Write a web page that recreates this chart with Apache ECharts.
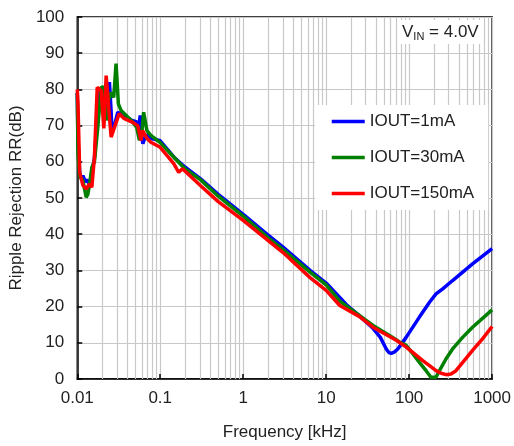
<!DOCTYPE html>
<html>
<head>
<meta charset="utf-8">
<script src="https://cdn.jsdelivr.net/npm/echarts@6/dist/echarts.min.js"></script>
<style>
html,body{margin:0;padding:0;background:#fff;}
#c{width:514px;height:446px;}
</style>
</head>
<body>
<div id="c"></div>
<script>
const seriesNames = ['IOUT=1mA', 'IOUT=30mA', 'IOUT=150mA'];
const xTickLabels = ['0.01', '0.1', '1', '10', '100', '1000'];
const yTicks = [0, 10, 20, 30, 40, 50, 60, 70, 80, 90, 100];

const freq1 = [0.01, 0.0102, 0.0107, 0.0112, 0.0117, 0.0125, 0.0134, 0.0140, 0.0150, 0.0161, 0.0174, 0.0185, 0.0200, 0.0213, 0.0230, 0.0244, 0.0256, 0.0261, 0.0280, 0.0308, 0.037, 0.045, 0.052, 0.0546, 0.0574, 0.0600, 0.0618, 0.065, 0.069, 0.077, 0.1, 0.15, 0.2, 0.307, 0.5, 1, 1.93, 3, 6.4, 10, 17.6, 25, 36.7, 45, 53, 57, 61, 66, 73, 92, 133, 176, 211, 254, 334, 581, 1000];
const rr1 = [79, 66, 57, 55.5, 56.2, 54.5, 55, 53.5, 57, 61, 72, 79, 80, 73, 78, 82, 74, 68.6, 70, 73.7, 72.5, 71.5, 71, 69, 72.8, 67, 65, 66.5, 67.5, 66.5, 65.8, 61, 58.5, 55.3, 51, 45.5, 40, 36.5, 30, 26.5, 20.5, 17.5, 14, 11.5, 8.3, 7.3, 7.1, 7.4, 8.3, 11.5, 17.1, 21.2, 23.5, 24.9, 27.2, 31.8, 36];

const freq2 = [0.01, 0.0102, 0.0107, 0.0117, 0.0128, 0.0134, 0.0140, 0.0150, 0.0161, 0.0177, 0.0194, 0.02125, 0.0223, 0.02373, 0.0256, 0.0275, 0.02935, 0.0313, 0.0337, 0.04, 0.045, 0.052, 0.056, 0.060, 0.0631, 0.0691, 0.077, 0.1, 0.15, 0.2, 0.307, 0.5, 1, 2, 3, 6.4, 10, 14.6, 22, 36.7, 60, 76.7, 92, 110.7, 133, 160, 183, 192, 211, 232, 279, 334, 441, 581, 1000];
const rr2 = [79, 62, 56, 54.8, 50.2, 51, 53.5, 58.5, 60, 69.6, 80.6, 80.6, 71.4, 76.9, 79.2, 77.8, 87.1, 76, 74.2, 72.5, 71.4, 69.5, 66, 68, 73.7, 68.6, 67.3, 65.3, 61, 58, 55, 50.5, 45, 39, 35.8, 29.5, 26, 21.5, 18.5, 14.8, 11.8, 10.2, 9.3, 7.0, 4.6, 2.3, 0.5, 0.1, 0.5, 2.3, 5.6, 8.3, 11.5, 14.3, 19.1];

const freq3 = [0.01, 0.0102, 0.0107, 0.0117, 0.0128, 0.0140, 0.0150, 0.0161, 0.0174, 0.0194, 0.0209, 0.0223, 0.0256, 0.0320, 0.0369, 0.0466, 0.0535, 0.0558, 0.0585, 0.0613, 0.0690, 0.0771, 0.1, 0.1455, 0.167, 0.185, 0.307, 0.5, 1, 3, 6.4, 10, 14.6, 25, 36.7, 70, 92.3, 146, 176, 211, 243, 279, 320, 367, 461, 581, 766, 1000];
const rr3 = [80, 76, 57, 53.5, 52.5, 53.9, 53, 61.3, 80.6, 79.7, 69.2, 83.8, 66.8, 73.3, 71.9, 70.9, 70, 68.2, 65.9, 68.6, 66.5, 65.4, 64, 59.5, 57.1, 58.1, 53.4, 49, 43.8, 35, 28, 24.5, 20.3, 17.3, 14.3, 10.7, 8.8, 5.1, 3.7, 2.3, 1.6, 1.2, 1.4, 2.3, 5.1, 7.9, 11.1, 14.5];

const minorGrid = [];
[0.01, 0.1, 1, 10, 100].forEach(function (d) {
  for (let k = 2; k <= 9; k++) minorGrid.push(+(d * k).toPrecision(3));
});

function pairs(xs, ys) { return xs.map(function (x, i) { return [x, ys[i]]; }); }

const font = 'Liberation Sans, Arial, sans-serif';
const chart = echarts.init(document.getElementById('c'), null, {renderer: 'canvas'});
const colors = ['#0000ff', '#008000', '#ff0000'];
const datas = [pairs(freq1, rr1), pairs(freq2, rr2), pairs(freq3, rr3)];

const series = [{
  type: 'line', data: [], silent: true, z: 1,
  markLine: {
    silent: true, symbol: 'none', label: {show: false}, animation: false, z: 1,
    lineStyle: {color: '#c8c8c8', width: 1.2, type: 'solid'},
    data: minorGrid.map(function (v) { return {xAxis: v}; })
  }
}];
seriesNames.forEach(function (n, i) {
  series.push({
    name: n, type: 'line', data: datas[i], showSymbol: false, symbol: 'none',
    lineStyle: {color: colors[i], width: 3.5}, itemStyle: {color: colors[i]},
    z: 3 + i, animation: false
  });
});

chart.setOption({
  animation: false,
  textStyle: {fontFamily: font},
  grid: {left: 76, right: 21, top: 17, bottom: 67, show: true, borderColor: '#000', borderWidth: 1.5, backgroundColor: 'transparent'},
  xAxis: {
    type: 'log', logBase: 10, min: 0.01, max: 1000,
    name: 'Frequency [kHz]', nameLocation: 'middle', nameGap: 45,
    nameTextStyle: {fontSize: 17, color: '#222', fontFamily: font},
    axisLine: {show: true, lineStyle: {color: '#000', width: 1.5}},
    axisTick: {show: true, inside: true, length: 5, lineStyle: {color: '#000', width: 1.5}},
    axisLabel: {fontSize: 17, color: '#222', margin: 11, fontFamily: font,
      formatter: function (v) {
        const idx = Math.round(Math.log10(v)) + 2;
        return xTickLabels[idx] !== undefined ? xTickLabels[idx] : '';
      }},
    splitLine: {show: true, lineStyle: {color: '#c8c8c8', width: 1.2}},
    minorTick: {show: false},
    minorSplitLine: {show: false}
  },
  yAxis: {
    type: 'value', min: 0, max: 100, interval: 10,
    name: 'Ripple Rejection RR(dB)', nameLocation: 'middle', nameGap: 50,
    nameTextStyle: {fontSize: 17, color: '#222', fontFamily: font},
    axisLine: {show: true, lineStyle: {color: '#000', width: 1.5}},
    axisTick: {show: true, inside: true, length: 5, lineStyle: {color: '#000', width: 1.5}},
    axisLabel: {fontSize: 17, color: '#222', margin: 13, fontFamily: font,
      formatter: function (v) { return yTicks.indexOf(v) >= 0 ? String(v) : ''; }},
    splitLine: {show: true, lineStyle: {color: '#c8c8c8', width: 1.2}}
  },
  legend: {
    data: seriesNames,
    orient: 'vertical', left: 315, top: 105, z: 20,
    padding: [8, 14, 8, 15], itemGap: 19, itemWidth: 33, itemHeight: 17,
    backgroundColor: '#fff', borderWidth: 0,
    lineStyle: {width: 3.5},
    itemStyle: {opacity: 0},
    textStyle: {fontSize: 17, color: '#222', fontFamily: font},
    selectedMode: false
  },
  graphic: [{
    type: 'text', left: 398, top: 20, z: 100,
    style: {
      text: '{a|V}{b|IN}{a| = 4.0V}',
      backgroundColor: '#fff', padding: [2, 4, 2, 4],
      rich: {
        a: {fontSize: 17, fill: '#222', fontFamily: font},
        b: {fontSize: 11, fill: '#222', fontFamily: font, padding: [9, 0, 0, 0]}
      }
    }
  }],
  series: series
});
</script>
</body>
</html>
